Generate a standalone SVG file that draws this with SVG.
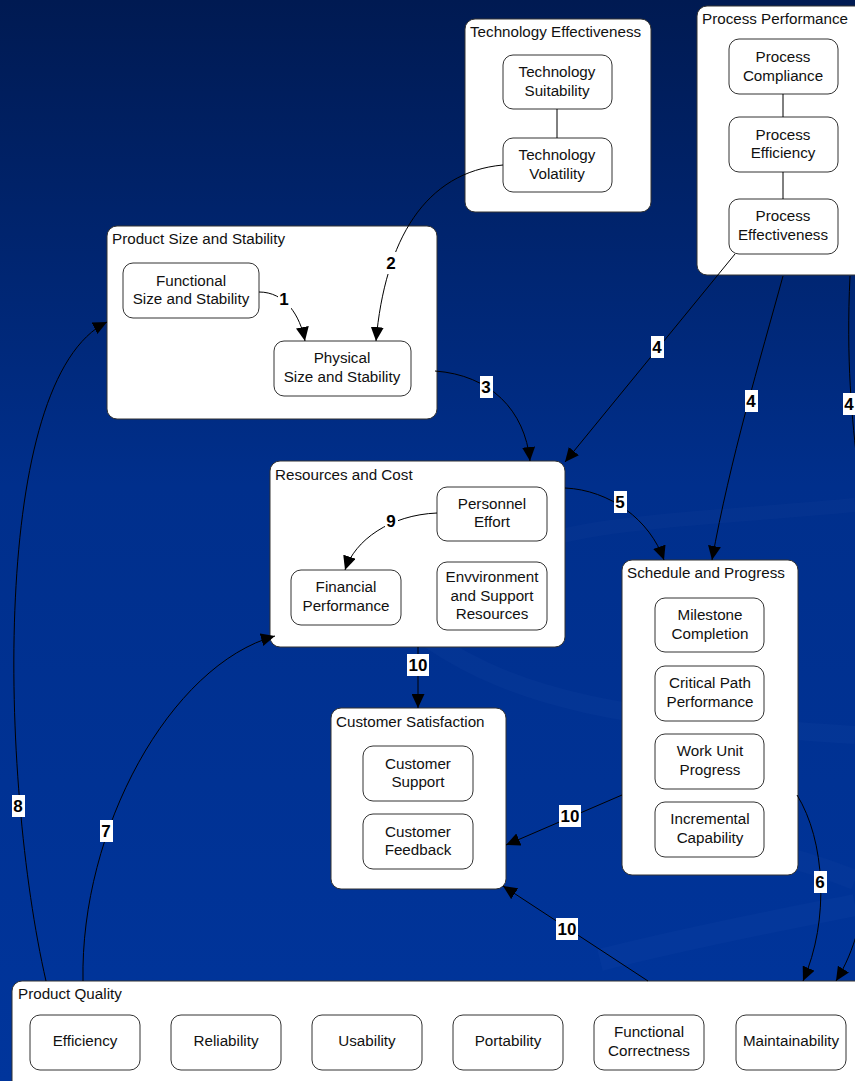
<svg xmlns="http://www.w3.org/2000/svg" width="855" height="1081" viewBox="0 0 855 1081">
  <defs>
    <linearGradient id="bg" x1="0" y1="0" x2="0" y2="1">
      <stop offset="0" stop-color="#001a52"/>
      <stop offset="0.45" stop-color="#002f8c"/>
      <stop offset="1" stop-color="#00359c"/>
    </linearGradient>
    <marker id="arrow" markerUnits="userSpaceOnUse" markerWidth="15" markerHeight="13" refX="14" refY="6.5" orient="auto">
      <path d="M0,0 L14,6.5 L0,13 z" fill="#000"/>
    </marker>
    <style>
      .group { fill: #fff; stroke: #333; stroke-width: 1; }
      .node { fill: #fff; stroke: #333; stroke-width: 1; }
      .title { font-family: "Liberation Sans", Arial, sans-serif; font-size: 15.2px; fill: #111; }
      .txt { font-family: "Liberation Sans", Arial, sans-serif; font-size: 15.2px; fill: #111; text-anchor: middle; }
      .edge { fill: none; stroke: #000; stroke-width: 1; }
      .arr { marker-end: url(#arrow); }
      .lblbg { fill: #fff; }
      .lbl { font-family: "Liberation Sans", Arial, sans-serif; font-size: 17px; font-weight: bold; fill: #000; text-anchor: middle; }
      .swoosh { fill: none; stroke: #4a6fc4; }
    </style>
  </defs>

  <!-- background -->
  <rect x="0" y="0" width="855" height="1081" fill="url(#bg)"/>
  <g id="background-swooshes">
    <path class="swoosh" d="M430,640 C520,700 620,720 855,735" stroke-width="18" stroke-opacity="0.06"/>
    <path class="swoosh" d="M500,560 C560,520 700,520 855,505" stroke-width="14" stroke-opacity="0.05"/>
    <path class="swoosh" d="M760,850 C800,860 830,870 855,880" stroke-width="20" stroke-opacity="0.05"/>
    <path class="swoosh" d="M600,960 C700,935 780,920 855,905" stroke-width="22" stroke-opacity="0.06"/>
  </g>

  <!-- Technology Effectiveness -->
  <g id="technology-effectiveness">
    <rect class="group" x="465" y="19" width="186" height="193" rx="10"/>
    <text class="title" x="470" y="37">Technology Effectiveness</text>
    <g id="technology-suitability">
      <rect class="node" x="503" y="55" width="109" height="54" rx="10"/>
      <text class="txt" x="557" y="77">Technology</text>
      <text class="txt" x="557" y="96">Suitability</text>
    </g>
    <g id="technology-volatility">
      <rect class="node" x="503" y="138" width="109" height="54" rx="10"/>
      <text class="txt" x="557" y="160">Technology</text>
      <text class="txt" x="557" y="179">Volatility</text>
    </g>
  </g>

  <!-- Process Performance -->
  <g id="process-performance">
    <rect class="group" x="697" y="6" width="175" height="269" rx="10"/>
    <text class="title" x="702" y="24">Process Performance</text>
    <g id="process-compliance">
      <rect class="node" x="729" y="39" width="109" height="55" rx="10"/>
      <text class="txt" x="783" y="62">Process</text>
      <text class="txt" x="783" y="81">Compliance</text>
    </g>
    <g id="process-efficiency">
      <rect class="node" x="729" y="117" width="109" height="55" rx="10"/>
      <text class="txt" x="783" y="140">Process</text>
      <text class="txt" x="783" y="158">Efficiency</text>
    </g>
    <g id="process-effectiveness">
      <rect class="node" x="729" y="199" width="109" height="55" rx="10"/>
      <text class="txt" x="783" y="221">Process</text>
      <text class="txt" x="783" y="240">Effectiveness</text>
    </g>
  </g>

  <!-- Product Size and Stability -->
  <g id="product-size-stability">
    <rect class="group" x="107" y="226" width="330" height="193" rx="10"/>
    <text class="title" x="112" y="244">Product Size and Stability</text>
    <g id="functional-size">
      <rect class="node" x="123" y="263" width="136" height="55" rx="10"/>
      <text class="txt" x="191" y="286">Functional</text>
      <text class="txt" x="191" y="304">Size and Stability</text>
    </g>
    <g id="physical-size">
      <rect class="node" x="274" y="341" width="137" height="55" rx="10"/>
      <text class="txt" x="342" y="363">Physical</text>
      <text class="txt" x="342" y="382">Size and Stability</text>
    </g>
  </g>

  <!-- Resources and Cost -->
  <g id="resources-cost">
    <rect class="group" x="270" y="461" width="295" height="186" rx="10"/>
    <text class="title" x="275" y="480">Resources and Cost</text>
    <g id="personnel-effort">
      <rect class="node" x="437" y="487" width="110" height="54" rx="10"/>
      <text class="txt" x="492" y="509">Personnel</text>
      <text class="txt" x="492" y="527">Effort</text>
    </g>
    <g id="financial-performance">
      <rect class="node" x="291" y="570" width="110" height="55" rx="10"/>
      <text class="txt" x="346" y="592">Financial</text>
      <text class="txt" x="346" y="611">Performance</text>
    </g>
    <g id="environment-support">
      <rect class="node" x="437" y="562" width="110" height="68" rx="10"/>
      <text class="txt" x="492" y="582">Envvironment</text>
      <text class="txt" x="492" y="601">and Support</text>
      <text class="txt" x="492" y="619">Resources</text>
    </g>
  </g>

  <!-- Schedule and Progress -->
  <g id="schedule-progress">
    <rect class="group" x="622" y="560" width="176" height="315" rx="10"/>
    <text class="title" x="627" y="578">Schedule and Progress</text>
    <g id="milestone-completion">
      <rect class="node" x="655" y="598" width="109" height="54" rx="10"/>
      <text class="txt" x="710" y="620">Milestone</text>
      <text class="txt" x="710" y="639">Completion</text>
    </g>
    <g id="critical-path">
      <rect class="node" x="655" y="666" width="109" height="55" rx="10"/>
      <text class="txt" x="710" y="688">Critical Path</text>
      <text class="txt" x="710" y="707">Performance</text>
    </g>
    <g id="work-unit-progress">
      <rect class="node" x="655" y="734" width="109" height="55" rx="10"/>
      <text class="txt" x="710" y="756">Work Unit</text>
      <text class="txt" x="710" y="775">Progress</text>
    </g>
    <g id="incremental-capability">
      <rect class="node" x="655" y="802" width="109" height="55" rx="10"/>
      <text class="txt" x="710" y="824">Incremental</text>
      <text class="txt" x="710" y="843">Capability</text>
    </g>
  </g>

  <!-- Customer Satisfaction -->
  <g id="customer-satisfaction">
    <rect class="group" x="331" y="708" width="175" height="181" rx="10"/>
    <text class="title" x="336" y="727">Customer Satisfaction</text>
    <g id="customer-support">
      <rect class="node" x="363" y="746" width="110" height="55" rx="10"/>
      <text class="txt" x="418" y="769">Customer</text>
      <text class="txt" x="418" y="787">Support</text>
    </g>
    <g id="customer-feedback">
      <rect class="node" x="363" y="814" width="110" height="55" rx="10"/>
      <text class="txt" x="418" y="837">Customer</text>
      <text class="txt" x="418" y="855">Feedback</text>
    </g>
  </g>

  <!-- Product Quality -->
  <g id="product-quality">
    <rect class="group" x="12" y="981" width="860" height="120" rx="10"/>
    <text class="title" x="18" y="999">Product Quality</text>
    <g id="efficiency">
      <rect class="node" x="30" y="1015" width="110" height="55" rx="10"/>
      <text class="txt" x="85" y="1046">Efficiency</text>
    </g>
    <g id="reliability">
      <rect class="node" x="171" y="1015" width="110" height="55" rx="10"/>
      <text class="txt" x="226" y="1046">Reliability</text>
    </g>
    <g id="usability">
      <rect class="node" x="312" y="1015" width="110" height="55" rx="10"/>
      <text class="txt" x="367" y="1046">Usability</text>
    </g>
    <g id="portability">
      <rect class="node" x="453" y="1015" width="110" height="55" rx="10"/>
      <text class="txt" x="508" y="1046">Portability</text>
    </g>
    <g id="functional-correctness">
      <rect class="node" x="594" y="1015" width="110" height="55" rx="10"/>
      <text class="txt" x="649" y="1037">Functional</text>
      <text class="txt" x="649" y="1056">Correctness</text>
    </g>
    <g id="maintainability">
      <rect class="node" x="736" y="1015" width="110" height="55" rx="10"/>
      <text class="txt" x="791" y="1046">Maintainability</text>
    </g>
  </g>

  <!-- connectors, drawn over the groups -->
  <g id="connectors">
    <line class="edge" x1="557" y1="109" x2="557" y2="138"/>
    <line class="edge" x1="783" y1="94" x2="783" y2="117"/>
    <line class="edge" x1="783" y1="172" x2="783" y2="199"/>

    <path class="edge arr" d="M259,292 C285,292 300,315 305,341"/>
    <path class="edge arr" d="M503,165 C425,172 385,240 376,341"/>
    <path class="edge arr" d="M435,371 C490,375 525,410 530,461"/>
    <path class="edge arr" d="M735,254 L565,462"/>
    <path class="edge arr" d="M783,276 C760,360 730,460 712,560"/>
    <path class="edge" d="M850,276 C846,360 852,420 858,470"/>
    <path class="edge arr" d="M858,930 C852,950 846,965 836,981"/>
    <path class="edge arr" d="M565,488 C610,490 650,520 664,560"/>
    <path class="edge arr" d="M797,795 C825,840 830,920 803,981"/>
    <path class="edge arr" d="M83,981 C80,830 170,665 275,636"/>
    <path class="edge arr" d="M46,981 C0,780 -10,380 107,322"/>
    <path class="edge arr" d="M437,513 C390,515 355,540 345,570"/>
    <path class="edge arr" d="M418,647 L418,708"/>
    <path class="edge arr" d="M622,795 L506,845"/>
    <path class="edge arr" d="M648,981 L503,886"/>

    <rect class="lblbg" x="278" y="288" width="13" height="22"/>
    <text class="lbl" x="284" y="305">1</text>
    <rect class="lblbg" x="385" y="252" width="13" height="22"/>
    <text class="lbl" x="391" y="269">2</text>
    <rect class="lblbg" x="480" y="376" width="13" height="22"/>
    <text class="lbl" x="486" y="393">3</text>
    <rect class="lblbg" x="651" y="336" width="13" height="22"/>
    <text class="lbl" x="657" y="353">4</text>
    <rect class="lblbg" x="745" y="390" width="13" height="22"/>
    <text class="lbl" x="751" y="407">4</text>
    <rect class="lblbg" x="843" y="393" width="13" height="22"/>
    <text class="lbl" x="849" y="410">4</text>
    <rect class="lblbg" x="614" y="491" width="13" height="22"/>
    <text class="lbl" x="620" y="508">5</text>
    <rect class="lblbg" x="814" y="871" width="13" height="22"/>
    <text class="lbl" x="820" y="888">6</text>
    <rect class="lblbg" x="100" y="820" width="13" height="22"/>
    <text class="lbl" x="106" y="837">7</text>
    <rect class="lblbg" x="12" y="795" width="13" height="22"/>
    <text class="lbl" x="18" y="812">8</text>
    <rect class="lblbg" x="385" y="510" width="13" height="22"/>
    <text class="lbl" x="391" y="527">9</text>
    <rect class="lblbg" x="407" y="654" width="22" height="22"/>
    <text class="lbl" x="418" y="671">10</text>
    <rect class="lblbg" x="559" y="805" width="22" height="22"/>
    <text class="lbl" x="570" y="822">10</text>
    <rect class="lblbg" x="556" y="918" width="22" height="22"/>
    <text class="lbl" x="567" y="935">10</text>
  </g>
</svg>
